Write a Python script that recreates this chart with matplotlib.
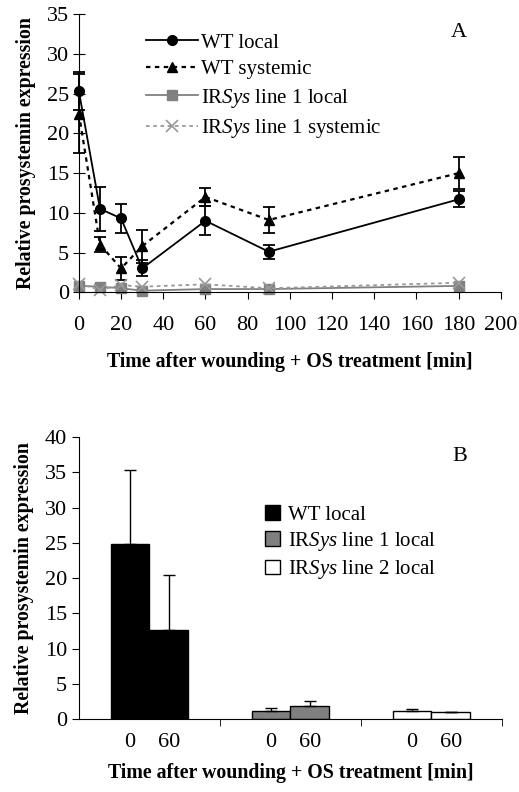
import numpy as np
import matplotlib
matplotlib.use("Agg")
import matplotlib.pyplot as plt

plt.rcParams['font.family'] = ['Liberation Serif', 'DejaVu Serif']
plt.rcParams['mathtext.fontset'] = 'custom'
plt.rcParams['mathtext.rm'] = 'Liberation Serif'
plt.rcParams['mathtext.it'] = 'Liberation Serif:italic'

# Panel A data
times = [0, 10, 20, 30, 60, 90, 180]
wt_local = [25.3, 10.5, 9.3, 3.0, 9.0, 5.1, 11.7]
wt_local_err = [2.4, 2.8, 1.8, 1.0, 1.8, 0.9, 1.0]
wt_sys = [22.5, 6.0, 3.0, 5.8, 12.0, 9.1, 15.0]
wt_sys_err = [5.0, 0.9, 1.4, 2.1, 1.1, 1.6, 2.0]
ir_local = [0.8, 0.7, 0.5, 0.2, 0.4, 0.4, 0.8]
ir_sys = [1.1, 0.3, 0.9, 0.7, 1.0, 0.5, 1.2]

# Panel B data
groups = ["WT local", "IR$\\mathit{Sys}$ line 1 local", "IR$\\mathit{Sys}$ line 2 local"]
bar_times = ["0", "60"]
bar_vals = [[24.8, 12.7], [1.1, 1.8], [1.1, 0.95]]
bar_errs = [[10.6, 7.8], [0.5, 0.8], [0.4, 0.05]]
bar_colors = ["black", "#808080", "white"]

xlabel = "Time after wounding + OS treatment [min]"
ylabel = "Relative prosystemin expression"
fs = 16
lfs = 14.3

fig = plt.figure(figsize=(5.19, 7.92), dpi=100)

# ---------------- panel A
ax = fig.add_axes([0.152, 0.631, 0.813, 0.351])
ek = dict(fmt='none', ecolor="black", capsize=4, elinewidth=1.3, capthick=1.3, clip_on=False)
ax.errorbar(times, wt_local, yerr=wt_local_err, **ek)
ax.errorbar(times, wt_sys, yerr=wt_sys_err, **ek)
h1, = ax.plot(times, wt_local, color="black", marker="o", ms=7, lw=1.3,
              clip_on=False, label="WT local")
h2, = ax.plot(times, wt_sys, color="black", marker="^", ms=7, lw=1.6,
              ls=(0, (2, 2)), clip_on=False, label="WT systemic")
h3, = ax.plot(times, ir_local, color="#808080", marker="s", ms=7, lw=1.3,
              clip_on=False, label="IR$\\mathit{Sys}$ line 1 local")
h4, = ax.plot(times, ir_sys, color="#999999", marker="x", ms=8, mew=1.2, lw=1.3,
              ls=(0, (2, 2)), clip_on=False, label="IR$\\mathit{Sys}$ line 1 systemic")
ax.set_xlim(0, 200)
ax.set_ylim(0, 35)
ax.set_xticks(np.arange(0, 201, 20))
ax.set_yticks(np.arange(0, 36, 5))
ax.spines['top'].set_visible(False)
ax.spines['right'].set_visible(False)
ax.tick_params(axis='y', direction='inout', length=8, labelsize=fs, pad=3)
ax.tick_params(axis='x', direction='out', length=5, labelsize=fs, pad=12)
ax.set_xlabel(xlabel, fontsize=lfs, fontweight='bold', labelpad=12)
ax.set_ylabel(ylabel, fontsize=lfs, fontweight='bold', labelpad=8)
ax.text(0.9, 0.935, "A", transform=ax.transAxes, fontsize=fs, ha='center', va='center')
ax.legend(handles=[h1, h2, h3, h4], loc='upper left', bbox_to_anchor=(0.114, 1.0),
          frameon=False, fontsize=15, handlelength=2.5, labelspacing=0.35,
          handletextpad=0.15)

# ---------------- panel B
bx = fig.add_axes([0.152, 0.092, 0.815, 0.356])
w = 0.275
centers = np.arange(len(groups))
for g in range(len(groups)):
    xs = [centers[g] - w / 2, centers[g] + w / 2]
    bx.bar(xs, bar_vals[g], width=w, color=bar_colors[g], edgecolor="black",
           linewidth=1.0, label=groups[g],
           yerr=[[0, 0], bar_errs[g]], error_kw=dict(capsize=4, elinewidth=1.0, capthick=1.0))
bx.set_xlim(-0.5, 2.5)
bx.set_ylim(0, 40)
bx.set_yticks(np.arange(0, 41, 5))
pos = [c + s * w / 2 for c in centers for s in (-1, 1)]
bx.set_xticks(pos)
bx.set_xticklabels(bar_times * len(groups))
bx.set_xticks([0.5, 1.5, 2.5], minor=True)
bx.tick_params(axis='x', which='major', length=0, labelsize=fs, pad=10)
bx.tick_params(axis='x', which='minor', length=5, direction='out')
bx.tick_params(axis='y', direction='out', length=5, labelsize=fs)
bx.spines['top'].set_visible(False)
bx.spines['right'].set_visible(False)
bx.set_xlabel(xlabel, fontsize=lfs, fontweight='bold', labelpad=8)
bx.set_ylabel(ylabel, fontsize=lfs, fontweight='bold', labelpad=8)
bx.text(0.9, 0.93, "B", transform=bx.transAxes, fontsize=fs, ha='center', va='center')
bx.legend(loc='upper left', bbox_to_anchor=(0.396, 0.825), frameon=False,
          fontsize=15, handlelength=0.7, handleheight=0.7, labelspacing=0.25,
          handletextpad=0.4)

fig.savefig("out.png", dpi=100)
